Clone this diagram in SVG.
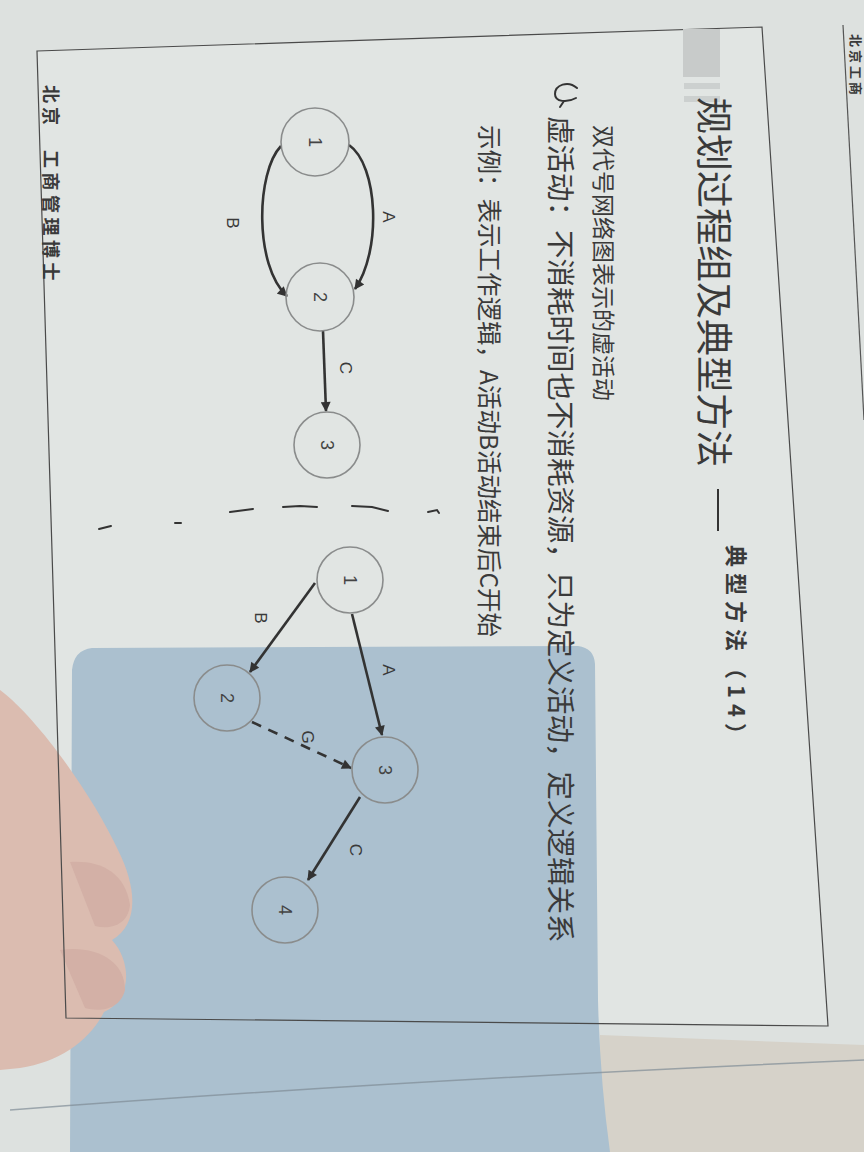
<svg xmlns="http://www.w3.org/2000/svg" width="864" height="1152" viewBox="0 0 864 1152">
<defs>
<style>
.cjk{font-family:"Noto Sans CJK SC","Noto Sans",sans-serif;fill:#3a3a3a;dominant-baseline:central}
.lbl{font-family:"Liberation Sans",Arial,sans-serif;font-size:17px;fill:#3a3a3a;text-anchor:middle;dominant-baseline:central}
.num{font-family:"Liberation Sans",Arial,sans-serif;font-size:18px;fill:#444;text-anchor:middle;dominant-baseline:central}
.node{fill:none;stroke:#8a8c8c;stroke-width:1.6}
.edge{fill:none;stroke:#333;stroke-width:2.6}
.dash{fill:none;stroke:#333;stroke-width:2.6;stroke-dasharray:10 8}
.frame{fill:none;stroke:#4a4a4a;stroke-width:1.2}
.pencil{fill:none;stroke:#333;stroke-width:2;stroke-linecap:round}
</style>
<marker id="ah" viewBox="0 0 10 10" refX="9" refY="5" markerWidth="12" markerHeight="10" markerUnits="userSpaceOnUse" orient="auto">
<path d="M0,0 L10,5 L0,10 z" fill="#333"/>
</marker>
</defs>

<!-- background / page -->
<rect x="0" y="0" width="864" height="1152" fill="#dde1df"/>
<path d="M37,51 L762,27 L828,1026 L66,1018 Z" fill="#e1e5e3"/>
<path d="M600,1035 L864,1045 L864,1152 L600,1152 Z" fill="#d6d2c9"/>
<path d="M92,648 L578,646 Q594,648 595,664 L598,1000 Q600,1080 610,1152 L70,1152 L72,670 Q74,650 92,648 Z" fill="#abc0cf"/>
<path d="M10,1110 Q400,1080 864,1060" fill="none" stroke="#7f8c95" stroke-width="1.5" opacity="0.7"/>
<path d="M0,690 C40,720 95,800 118,850 C138,890 138,925 112,940 C132,962 132,1000 104,1012 C90,1040 60,1062 20,1068 L0,1070 Z" fill="#dbbcb0"/>
<path d="M70,862 C100,860 125,872 130,905 C128,925 110,930 95,926 Z" fill="#d3b0a6"/>
<path d="M60,950 C95,945 125,960 125,990 C120,1010 100,1012 85,1008 Z" fill="#d3b0a6"/>

<!-- page frame -->
<path class="frame" d="M37,51 L762,27 L828,1026 L66,1018 Z"/>
<!-- edge of the next page -->
<path d="M843,25 L864,420" stroke="#555" stroke-width="1.2" fill="none"/>
<text class="cjk" transform="translate(856,34) rotate(90)" font-size="13" font-weight="bold" letter-spacing="3">北京工商</text>

<!-- header bars -->
<rect x="683" y="29" width="37" height="48" fill="#c8cbca"/>
<rect x="684" y="83" width="36" height="6" fill="#ccd0cf"/>
<rect x="684" y="96" width="36" height="6" fill="#ccd0cf"/>

<!-- texts -->
<g id="title">
<text class="cjk" transform="translate(716,97) rotate(90)" font-size="37">规划过程组及典型方法</text>
<line x1="718" y1="489" x2="718" y2="531" stroke="#333" stroke-width="2"/>
<text class="cjk" transform="translate(738,545) rotate(90)" font-size="22" font-weight="bold" letter-spacing="6">典型方法（14）</text>
</g>
<g id="subtitle">
<text class="cjk" transform="translate(605,125) rotate(90)" font-size="23">双代号网络图表示的虚活动</text>
</g>
<g id="definition">
<text class="cjk" transform="translate(562,116) rotate(90)" font-size="28.5">虚活动：不消耗时间也不消耗资源，只为定义活动，定义逻辑关系</text>
</g>
<g id="example">
<text class="cjk" transform="translate(490,125) rotate(90)" font-size="24.5">示例：表示工作逻辑，A活动B活动结束后C开始</text>
</g>
<g id="footer">
<text class="cjk" transform="translate(52,85) rotate(90)" font-size="18" font-weight="bold" letter-spacing="4">北京</text>
<text class="cjk" transform="translate(52,150) rotate(90)" font-size="18" font-weight="bold" letter-spacing="4.5">工商管理博士</text>
</g>

<!-- pencil marks -->
<g id="pencil-marks">
<path class="pencil" d="M577,88 C568,80 555,85 555,94 C555,102 567,103 576,98 M564,101 L560,107"/>
<path class="pencil" d="M99,529 L111,526"/>
<path class="pencil" d="M175,523 L181,523"/>
<path class="pencil" d="M230,512 L253,509"/>
<path class="pencil" d="M283,507 L300,506 L317,507"/>
<path class="pencil" d="M352,506 L372,507 L388,511"/>
<path class="pencil" d="M428,512 L437,510 L439,513"/>
</g>

<!-- connectors -->
<g id="connectors">
<path class="edge" d="M349,145 C378,165 382,250 355,289" marker-end="url(#ah)"/>
<path class="edge" d="M281,146 C256,172 254,266 287,296" marker-end="url(#ah)"/>
<path class="edge" d="M323,331 L326,411" marker-end="url(#ah)"/>
<path class="edge" d="M315,583 L250,672" marker-end="url(#ah)"/>
<path class="edge" d="M352,614 L382,735" marker-end="url(#ah)"/>
<path class="dash" d="M252,722 L351,768" marker-end="url(#ah)"/>
<path class="edge" d="M360,797 L308,880" marker-end="url(#ah)"/>
</g>
<g id="edge-labels">
<text class="lbl" transform="translate(388,217) rotate(90)">A</text>
<text class="lbl" transform="translate(232,223) rotate(90)">B</text>
<text class="lbl" transform="translate(345,368) rotate(90)">C</text>
<text class="lbl" transform="translate(260,618) rotate(90)">B</text>
<text class="lbl" transform="translate(388,670) rotate(90)">A</text>
<text class="lbl" transform="translate(307,737) rotate(90)">G</text>
<text class="lbl" transform="translate(355,850) rotate(90)">C</text>
</g>

<!-- left diagram nodes -->
<g id="L1"><circle class="node" cx="315" cy="142" r="34"/><text class="num" transform="translate(315,142) rotate(90)">1</text></g>
<g id="L2"><circle class="node" cx="320" cy="297" r="34"/><text class="num" transform="translate(320,297) rotate(90)">2</text></g>
<g id="L3"><circle class="node" cx="327" cy="445" r="33"/><text class="num" transform="translate(327,445) rotate(90)">3</text></g>

<!-- right diagram nodes -->
<g id="R1"><circle class="node" cx="350" cy="580" r="33"/><text class="num" transform="translate(350,580) rotate(90)">1</text></g>
<g id="R2"><circle class="node" cx="227" cy="698" r="33"/><text class="num" transform="translate(227,698) rotate(90)">2</text></g>
<g id="R3"><circle class="node" cx="385" cy="770" r="33"/><text class="num" transform="translate(385,770) rotate(90)">3</text></g>
<g id="R4"><circle class="node" cx="285" cy="910" r="33"/><text class="num" transform="translate(285,910) rotate(90)">4</text></g>
</svg>
